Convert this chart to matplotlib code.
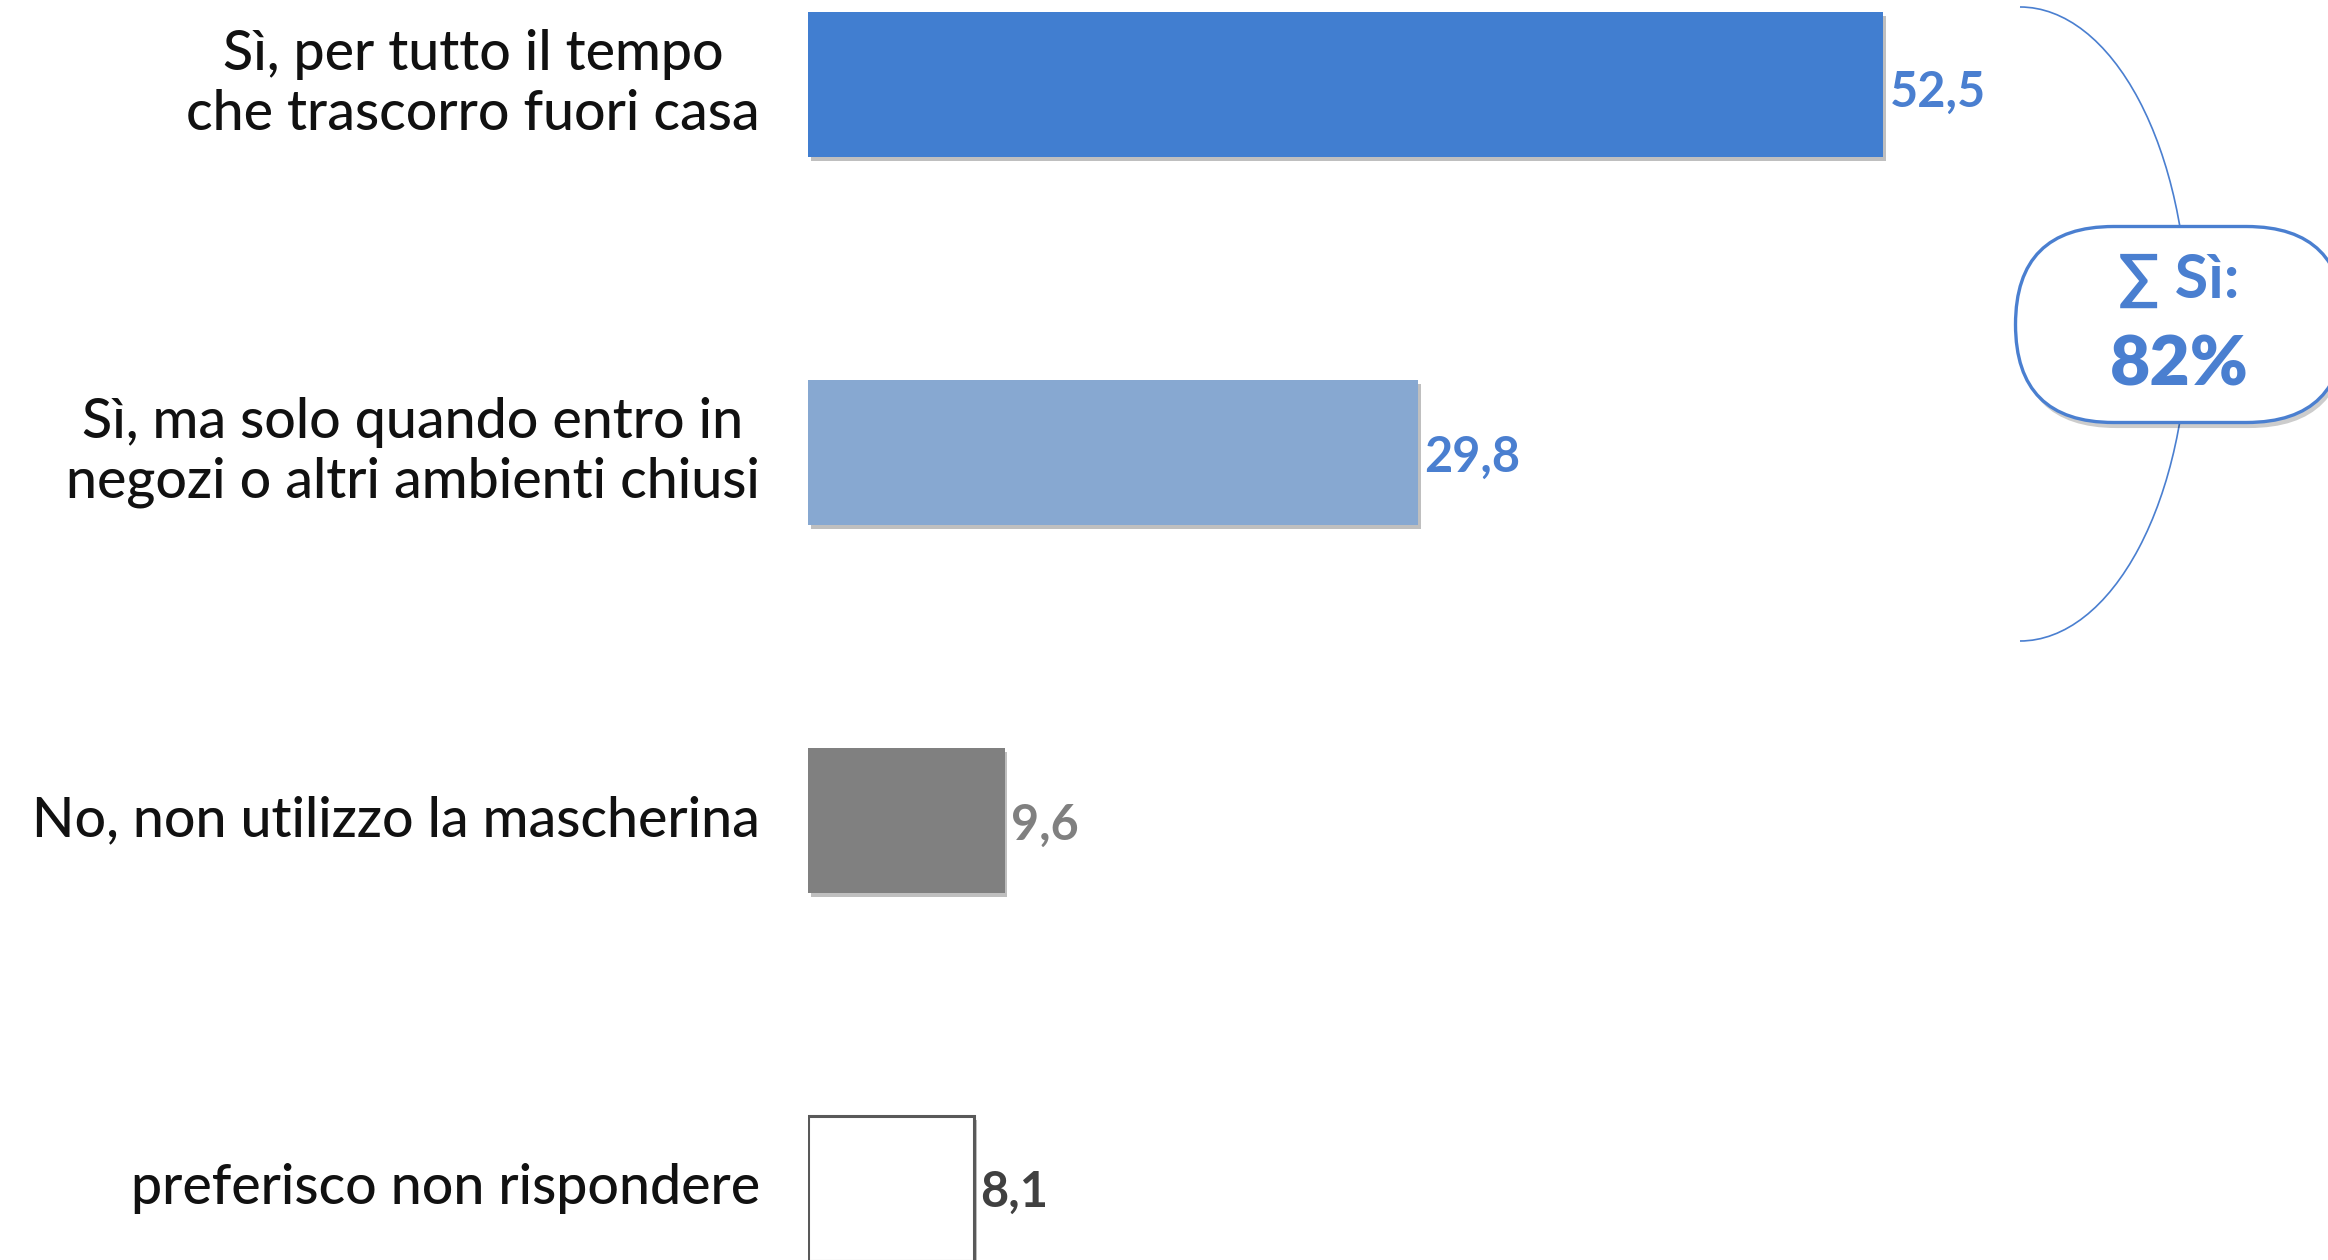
import matplotlib
matplotlib.use("Agg")
import matplotlib.pyplot as plt
import matplotlib.patheffects as pe
from matplotlib.patches import Arc, FancyBboxPatch

# ---- data ----
categories = [
    "Sì, per tutto il tempo\nche trascorro fuori casa",
    "Sì, ma solo quando entro in\nnegozi o altri ambienti chiusi",
    "No, non utilizzo la mascherina",
    "preferisco non rispondere",
]
values = [52.5, 29.8, 9.6, 8.1]
value_labels = ["52,5", "29,8", "9,6", "8,1"]
bar_colors = ["#417ED0", "#87A8D1", "#808080", "#FFFFFF"]
edge_colors = ["none", "none", "none", "#595959"]
value_colors = ["#4A7FD0", "#4A7FD0", "#808080", "#404040"]
sum_title = "∑ Sì:"
sum_value = "82%"

W, H, DPI = 2328, 1260, 100
fig = plt.figure(figsize=(W / DPI, H / DPI), dpi=DPI)
fig.patch.set_facecolor("white")

FONT = ["Lato", "DejaVu Sans"]

ax = fig.add_axes([808 / W, 0, 1 - 808 / W, 1])
ax.set_xlim(0, 74.2)
ax.set_ylim(3.194, -0.2296)
ax.axis("off")

ypos = list(range(len(categories)))
shadow = [pe.SimplePatchShadow(offset=(2, -3), shadow_rgbFace="#000000", alpha=0.25), pe.Normal()]
bars = ax.barh(ypos, values, height=0.395, color=bar_colors,
               edgecolor=edge_colors, linewidth=2.2, zorder=3)
for b in bars:
    b.set_path_effects(shadow)

offsets = [0.02, 0.012, 0.012, 0.01]
for y, v, lab, c, o in zip(ypos, values, value_labels, value_colors, offsets):
    ax.text(v + 0.3, y + o, lab, ha="left", va="center", fontsize=35,
            color=c, family=FONT, fontweight="bold", zorder=4)

for y, lab in zip(ypos, categories):
    ax.text(-2.35, y, lab, ha="right", va="center", multialignment="center",
            fontsize=40, color="#111111", family=FONT, fontweight="medium",
            linespacing=1.22, zorder=4)

# ---- overlay in pixel coordinates ----
ov = fig.add_axes([0, 0, 1, 1], facecolor="none")
ov.set_xlim(0, W)
ov.set_ylim(H, 0)
ov.axis("off")

arc = Arc((2020, 324), 2 * 168, 2 * 317, theta1=-90, theta2=90,
          color="#4A7FD0", lw=1.2, zorder=2)
ov.add_patch(arc)

bub_h = 197
bub = FancyBboxPatch((2015 + bub_h / 2, 226 + bub_h / 2), 330 - bub_h, 0.0,
                     boxstyle=f"round,pad={bub_h/2 - 0.5},rounding_size={bub_h/2 - 0.5}",
                     facecolor="white", edgecolor="#4A7FD0", lw=2.4, zorder=5)
bub.set_path_effects([pe.SimplePatchShadow(offset=(2, -4), shadow_rgbFace="#000000", alpha=0.2), pe.Normal()])
ov.add_patch(bub)

ov.text(2179, 280, sum_title, ha="center", va="center", fontsize=44,
        color="#4A7FD0", family=FONT, fontweight="bold", zorder=6)
ov.text(2179, 366, sum_value, ha="center", va="center", fontsize=50,
        color="#4A7FD0", family=FONT, fontweight="heavy", zorder=6)

fig.savefig("out.png", dpi=DPI, facecolor="white")
